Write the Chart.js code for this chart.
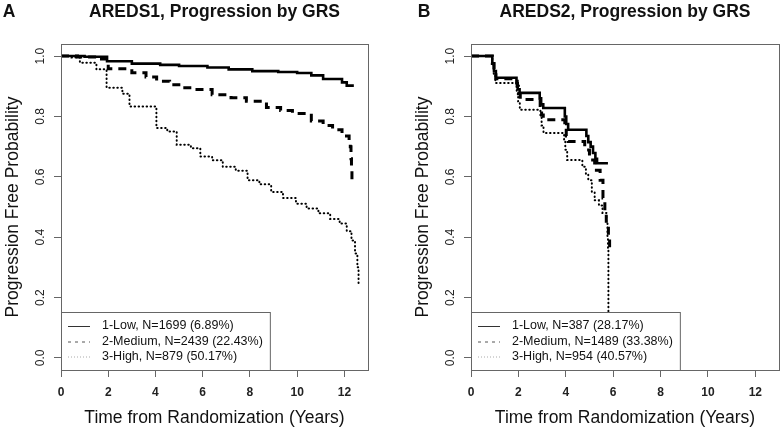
<!DOCTYPE html>
<html>
<head>
<meta charset="utf-8">
<title>AREDS progression by GRS</title>
<script src="https://cdn.jsdelivr.net/npm/chart.js@4.4.0/dist/chart.umd.min.js"></script>
<style>
    body { margin: 0; background: #fff; }
    #wrap { position: relative; width: 782px; height: 431px; }
    canvas { position: absolute; top: 0; }
</style>
</head>
<body>
<div id="wrap">
    <canvas id="chartA" width="391" height="431" style="left:0"></canvas>
    <canvas id="chartB" width="391" height="431" style="left:391px"></canvas>
</div>
<script>
// =========================================================================
// DATA
// =========================================================================
const xTicks = [0, 2, 4, 6, 8, 10, 12];
const yTicks = [0, 0.2, 0.4, 0.6, 0.8, 1.0];

const legendA = ['1-Low, N=1699 (6.89%)', '2-Medium, N=2439 (22.43%)', '3-High, N=879 (50.17%)'];
const legendB = ['1-Low, N=387 (28.17%)', '2-Medium, N=1489 (33.38%)', '3-High, N=954 (40.57%)'];

// AREDS1 - Kaplan-Meier steps (years, progression free probability)
const timeA1 = [0, 1.0, 1.95, 3.0, 4.2, 5.0, 6.2, 7.1, 8.1, 9.2, 10.0, 10.6, 11.1, 11.9, 12.1, 12.4];
const survA1 = [1.0, 0.998, 0.983, 0.975, 0.971, 0.967, 0.962, 0.956, 0.950, 0.947, 0.944, 0.936, 0.924, 0.913, 0.902, 0.902];
const timeA2 = [0, 0.7, 1.6, 2.0, 3.0, 3.6, 4.05, 4.6, 5.1, 5.6, 6.4, 7.2, 7.85, 8.7, 9.3, 9.8, 10.6, 11.1, 11.5, 11.9, 12.2, 12.25, 12.28, 12.3, 12.32];
const survA2 = [1.0, 0.997, 0.99, 0.958, 0.945, 0.931, 0.917, 0.905, 0.895, 0.889, 0.872, 0.862, 0.85, 0.83, 0.82, 0.81, 0.785, 0.77, 0.756, 0.735, 0.72, 0.70, 0.66, 0.62, 0.59];
const timeA3 = [0, 0.45, 0.8, 1.5, 1.93, 2.6, 2.9, 4.04, 4.5, 4.9, 5.5, 5.9, 6.4, 6.85, 7.4, 7.9, 8.4, 8.9, 9.4, 9.95, 10.4, 10.9, 11.4, 11.8, 12.1, 12.3, 12.45, 12.55, 12.6];
const survA3 = [1.0, 0.995, 0.978, 0.956, 0.895, 0.875, 0.833, 0.762, 0.75, 0.706, 0.695, 0.667, 0.655, 0.633, 0.62, 0.589, 0.575, 0.55, 0.53, 0.511, 0.495, 0.479, 0.46, 0.445, 0.42, 0.389, 0.346, 0.3, 0.245];

// AREDS2 (events cluster around the yearly visits)
const timeB1 = [0, 0.9, 0.97, 1.05, 1.92, 1.97, 2.05, 2.9, 2.96, 3.05, 3.96, 4.02, 4.1, 4.87, 4.95, 5.05, 5.15, 5.25, 5.32, 5.78];
const survB1 = [1.0, 0.975, 0.95, 0.928, 0.91, 0.89, 0.878, 0.86, 0.84, 0.828, 0.80, 0.775, 0.756, 0.735, 0.715, 0.70, 0.679, 0.66, 0.645, 0.645];
const timeB2 = [0, 0.9, 0.97, 1.05, 1.95, 2.0, 2.08, 2.92, 2.98, 3.05, 3.96, 4.02, 4.1, 4.8, 5.0, 5.22, 5.45, 5.57, 5.65, 5.71, 5.8, 5.85];
const survB2 = [1.0, 0.975, 0.95, 0.925, 0.9, 0.875, 0.856, 0.83, 0.805, 0.789, 0.76, 0.735, 0.717, 0.689, 0.656, 0.622, 0.589, 0.53, 0.48, 0.445, 0.4, 0.367];
const timeB3 = [0, 0.9, 0.96, 1.03, 1.93, 1.99, 2.06, 2.93, 2.98, 3.06, 3.93, 3.98, 4.06, 4.7, 4.85, 4.95, 5.1, 5.22, 5.4, 5.55, 5.71, 5.76, 5.78, 5.8];
const survB3 = [1.0, 0.97, 0.94, 0.911, 0.88, 0.85, 0.822, 0.80, 0.77, 0.745, 0.72, 0.69, 0.656, 0.633, 0.61, 0.589, 0.55, 0.522, 0.505, 0.48, 0.445, 0.40, 0.36, 0.0];

// =========================================================================
// STYLE
// =========================================================================
const FONT = "'Liberation Sans', Arial, Helvetica, sans-serif";
const lineStyles = [
    { width: 2.6, dash: [], cap: 'butt' },       // 1-Low
    { width: 3, dash: [8, 6], cap: 'butt' },     // 2-Medium
    { width: 2, dash: [0.5, 3.5], cap: 'round' } // 3-High
];
const legendStyles = [
    { color: '#333', dash: [] },
    { color: '#555', dash: [3, 4] },
    { color: '#aaa', dash: [1, 2] }
];

const toPoints = (t, s) => t.map((x, i) => ({ x: x, y: s[i] }));

// Titles, plot frame and the R-style legend drawn over the curves
const panelDeco = {
    id: 'panelDeco',
    afterDatasetsDraw(chart, args, opts) {
        const { ctx, chartArea: a } = chart;
        ctx.save();

        // legend box (bottom left, white background)
        ctx.font = '12.5px ' + FONT;
        const labels = chart.data.datasets.map(d => d.label);
        const textW = Math.max(...labels.map(l => ctx.measureText(l).width));
        const boxW = textW + 41 + 7;
        const boxH = 58;
        const bx = a.left, by = a.bottom - boxH;
        ctx.fillStyle = '#fff';
        ctx.fillRect(bx, by, boxW, boxH);
        ctx.strokeStyle = '#666';
        ctx.lineWidth = 1;
        ctx.strokeRect(bx + 0.5, by + 0.5, boxW, boxH);

        const rows = [-44, -28.5, -13.5];
        labels.forEach((lab, i) => {
            const y = a.bottom + rows[i];
            ctx.beginPath();
            ctx.strokeStyle = legendStyles[i].color;
            ctx.setLineDash(legendStyles[i].dash);
            ctx.moveTo(bx + 7, y + 0.5);
            ctx.lineTo(bx + 29, y + 0.5);
            ctx.stroke();
            ctx.setLineDash([]);
            ctx.fillStyle = '#111';
            ctx.textBaseline = 'middle';
            ctx.textAlign = 'left';
            ctx.fillText(lab, bx + 41, y);
        });

        // plot frame
        ctx.strokeStyle = '#666';
        ctx.lineWidth = 1;
        ctx.strokeRect(a.left + 0.5, a.top + 0.5, a.right - a.left, a.bottom - a.top);
        ctx.restore();
    },
    afterDraw(chart, args, opts) {
        const { ctx, chartArea: a } = chart;
        ctx.save();
        ctx.fillStyle = '#111';
        ctx.textBaseline = 'alphabetic';
        ctx.font = 'bold 17.5px ' + FONT;
        ctx.textAlign = 'center';
        ctx.fillText(opts.title, (a.left + a.right) / 2, 16.5);
        ctx.fillText(opts.letter, opts.letterX, 16.5);
        ctx.restore();
    }
};

// =========================================================================
// BUILD ONE PANEL
// =========================================================================
function buildPanel(canvasId, times, survs, labels, deco, layout) {
    const ctx = document.getElementById(canvasId).getContext('2d');

    const datasets = labels.map((lab, i) => ({
        label: lab,
        data: toPoints(times[i], survs[i]),
        borderColor: '#000',
        borderWidth: lineStyles[i].width,
        borderDash: lineStyles[i].dash,
        borderCapStyle: lineStyles[i].cap,
        stepped: 'before',
        pointRadius: 0,
        fill: false
    }));

    return new Chart(ctx, {
        type: 'line',
        data: { datasets: datasets },
        plugins: [panelDeco],
        options: {
            responsive: false,
            animation: false,
            devicePixelRatio: 1,
            layout: { padding: { top: 44, right: layout.right, bottom: 0, left: 0 } },
            plugins: {
                legend: { display: false },
                tooltip: { enabled: false },
                panelDeco: deco
            },
            scales: {
                x: {
                    type: 'linear',
                    min: 0,
                    max: 13,
                    afterBuildTicks: s => { s.ticks = xTicks.map(v => ({ value: v })); },
                    afterFit: s => { s.height = 61; },
                    grid: { display: true, drawOnChartArea: false, drawTicks: true, tickLength: 7, color: '#666' },
                    border: { display: false },
                    ticks: {
                        color: '#222',
                        padding: 8,
                        maxRotation: 0,
                        font: { family: FONT, size: 12, weight: 'bold' }
                    },
                    title: {
                        display: true,
                        text: 'Time from Randomization (Years)',
                        color: '#111',
                        font: { family: FONT, size: 17.5 },
                        padding: { top: 0, bottom: 2.5 }
                    }
                },
                y: {
                    type: 'linear',
                    min: -0.04,
                    max: 1.04,
                    afterBuildTicks: s => { s.ticks = yTicks.map(v => ({ value: v })); },
                    afterFit: s => { s.width = layout.yWidth; },
                    grid: { display: true, drawOnChartArea: false, drawTicks: true, tickLength: 7, color: '#666' },
                    border: { display: false },
                    ticks: {
                        color: '#222',
                        padding: 5,
                        minRotation: 90,
                        maxRotation: 90,
                        crossAlign: 'center',
                        font: { family: FONT, size: 12 },
                        callback: v => v.toFixed(1)
                    },
                    title: {
                        display: true,
                        text: 'Progression Free Probability',
                        color: '#111',
                        font: { family: FONT, size: 17.5 },
                        padding: { top: layout.yTitlePad, bottom: 0 }
                    }
                }
            }
        }
    });
}

// =========================================================================
// INIT
// =========================================================================
document.addEventListener('DOMContentLoaded', () => {
    buildPanel('chartA',
        [timeA1, timeA2, timeA3], [survA1, survA2, survA3], legendA,
        { title: 'AREDS1, Progression by GRS', letter: 'A', letterX: 9 },
        { right: 23, yWidth: 61, yTitlePad: 2.5 });

    buildPanel('chartB',
        [timeB1, timeB2, timeB3], [survB1, survB2, survB3], legendB,
        { title: 'AREDS2, Progression by GRS', letter: 'B', letterX: 33 },
        { right: 3, yWidth: 80, yTitlePad: 21.5 });
});
</script>
</body>
</html>
